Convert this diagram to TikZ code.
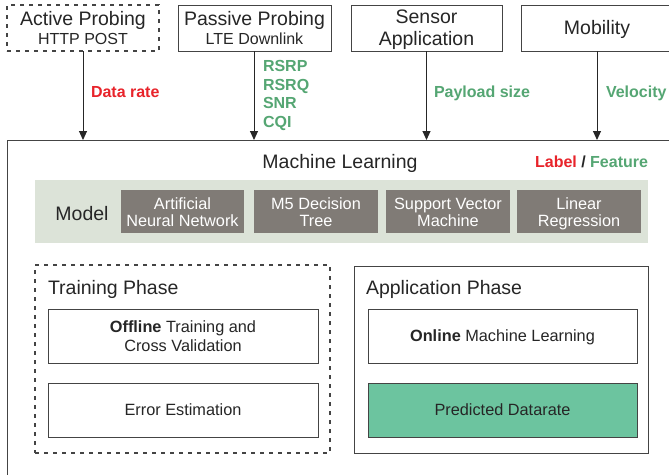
\documentclass[tikz,border=0pt]{standalone}
\usepackage{fontspec}
\setmainfont{Liberation Sans}
\usetikzlibrary{arrows.meta}
\definecolor{txt}{HTML}{262626}
\definecolor{edge}{HTML}{444444}
\definecolor{lblred}{HTML}{E8232A}
\definecolor{featgreen}{HTML}{55A673}
\definecolor{bandfill}{HTML}{DCE3D8}
\definecolor{modelfill}{HTML}{807B76}
\definecolor{predfill}{HTML}{6CC49F}
\newcommand{\bigfont}{\fontsize{19.5}{21.5}\selectfont}
\newcommand{\midfont}{\fontsize{16}{18}\selectfont}
\newcommand{\boxfont}{\fontsize{16.3}{17.5}\selectfont}
\begin{document}
\begin{tikzpicture}[x=1pt,y=-1pt,
  every node/.style={inner sep=0pt,outer sep=0pt,text=txt},
  srcbox/.style={draw=edge,line width=1pt,fill=white,minimum height=46pt,align=center,font=\bigfont,text depth=0.5pt},
  dashbox/.style={draw=edge,line width=1.4pt,dash pattern=on 4pt off 5pt},
  arr/.style={draw=txt,line width=1pt,-{Triangle[length=9pt,width=8pt]}},
  lbl/.style={font=\midfont\bfseries,anchor=west,text depth=0pt},
  ttl/.style={font=\bigfont,text depth=0pt},
  modelbox/.style={fill=modelfill,minimum width=124pt,minimum height=43pt,align=center,font=\boxfont,text=white,text depth=-4pt},
  stepbox/.style={draw=edge,line width=1pt,fill=white,minimum width=270pt,minimum height=54pt,align=center,font=\boxfont,text depth=-2pt},
]
\clip (0,0) rectangle (669,474);
\fill[white] (0,0) rectangle (669,474);

% main box
\node[draw=edge,line width=1pt,minimum width=700pt,minimum height=360pt,anchor=north west] (ml) at (7,140) {};

% sources
\node[srcbox,dashbox,minimum width=152pt] (act) at (83,28) {Active Probing\\[-3pt]{\midfont HTTP POST}};
\node[srcbox,minimum width=153pt] (pas) at (254.5,28) {Passive Probing\\[-3pt]{\midfont LTE Downlink}};
\node[srcbox,minimum width=151pt] (sen) at (426.5,28) {Sensor\\Application};
\node[srcbox,minimum width=152pt] (mob) at (597,28) {Mobility};

% arrows
\draw[arr] (act.south) -- (act.south |- ml.north);
\draw[arr] ([xshift=-0.5pt]pas.south) -- ([xshift=-0.5pt]pas.south |- ml.north);
\draw[arr] (sen.south) -- (sen.south |- ml.north);
\draw[arr] (mob.south) -- (mob.south |- ml.north);

% labels
\node[lbl,text=lblred] (ldr) at (91,92) {Data rate};
\node[lbl,text=featgreen,align=left] (lpas) at (263,94) {RSRP\\[0.4pt]RSRQ\\[0.4pt]SNR\\[0.4pt]CQI};
\node[lbl,text=featgreen] (lpay) at (434,92) {Payload size};
\node[lbl,text=featgreen] (lvel) at (606,92) {Velocity};

% ML header
\node[ttl] (mlt) at (340,161) {Machine Learning};
\node[font=\midfont\bfseries,anchor=east,text depth=0pt] (legend) at (648,162) {\textcolor{lblred}{Label} / \textcolor{featgreen}{Feature}};

% model band
\node[fill=bandfill,minimum width=613pt,minimum height=63pt,anchor=north west] (band) at (35,180) {};
\node[ttl] (mdl) at (82,213) {Model};
\node[modelbox,minimum width=123pt] (ann) at (182.5,211.5) {\raisebox{-1.5pt}{Artificial}\\\raisebox{-1.5pt}{Neural Network}};
\node[modelbox] (m5) at (316,211.5) {\raisebox{-1.5pt}{M5 Decision}\\\raisebox{-1.5pt}{Tree}};
\node[modelbox] (svm) at (448,211.5) {\raisebox{-1.5pt}{Support Vector}\\\raisebox{-1.5pt}{Machine}};
\node[modelbox] (lr) at (579,211.5) {\raisebox{-1.5pt}{Linear}\\\raisebox{-1.5pt}{Regression}};

% phases
\node[dashbox,minimum width=295pt,minimum height=188pt,anchor=north west] (train) at (35,265) {};
\node[ttl,anchor=west] (traint) at (48,287) {Training Phase};
\node[draw=edge,line width=1pt,minimum width=294pt,minimum height=187pt,anchor=north west] (app) at (354,266) {};
\node[ttl,anchor=west] (appt) at (366,287) {Application Phase};

\node[stepbox] (off) at (183,336) {\textbf{Offline} Training and\\[1pt]Cross Validation};
\node[stepbox] (err) at (183,410) {Error Estimation};
\node[stepbox,minimum width=269pt] (onl) at (502.5,336) {\textbf{Online} Machine Learning};
\node[stepbox,minimum width=269pt,fill=predfill] (pred) at (502.5,410) {Predicted Datarate};
\end{tikzpicture}
\end{document}
